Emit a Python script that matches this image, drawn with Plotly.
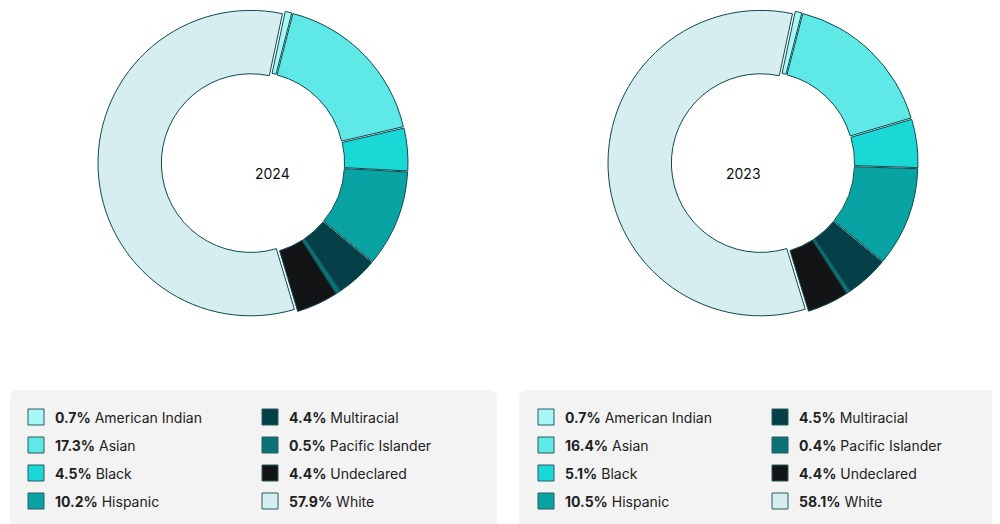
import plotly.graph_objects as go

categories = ["American Indian", "Asian", "Black", "Hispanic", "Multiracial", "Pacific Islander", "Undeclared", "White"]
values_2024 = [0.7, 17.3, 4.5, 10.2, 4.4, 0.5, 4.4, 57.9]
values_2023 = [0.7, 16.4, 5.1, 10.5, 4.5, 0.4, 4.4, 58.1]
years = ["2024", "2023"]
colors = ["#a6f7f5", "#5ee8e6", "#1ad8d6", "#09a3a3", "#053f48", "#0b7378", "#121415", "#d6eef0"]

W, H = 1000, 524
fig = go.Figure()
shapes, annots = [], []
for k, (yr, vals) in enumerate(zip(years, [values_2024, values_2023])):
    cx = 245 + 510 * k
    fig.add_trace(go.Pie(
        labels=categories, values=vals, hole=0.585, sort=False, direction="clockwise",
        rotation=12, textinfo="none", hoverinfo="label+percent", showlegend=False,
        pull=[0.015] * len(vals),
        marker=dict(colors=colors, line=dict(color="#0d4a50", width=1)),
        domain=dict(x=[(cx - 155) / W, (cx + 155) / W], y=[1 - 310 / H, 1]),
    ))
    annots.append(dict(x=cx / W, y=1 - 155 / H, xref="paper", yref="paper", text=yr,
                       showarrow=False, font=dict(size=14, color="#111")))
    x0 = 2 + 509 * k
    shapes.append(dict(type="path", xref="paper", yref="paper",
        path=f"M {(x0+8)/W},{1-382/H} L {(x0+479)/W},{1-382/H} Q {(x0+487)/W},{1-382/H} {(x0+487)/W},{1-390/H} "
             f"L {(x0+487)/W},{1-513/H} Q {(x0+487)/W},{1-521/H} {(x0+479)/W},{1-521/H} L {(x0+8)/W},{1-521/H} "
             f"Q {x0/W},{1-521/H} {x0/W},{1-513/H} L {x0/W},{1-390/H} Q {x0/W},{1-382/H} {(x0+8)/W},{1-382/H} Z",
        fillcolor="#f3f3f3", line=dict(width=0), layer="below"))
    for i, (c, v) in enumerate(zip(categories, vals)):
        col, row = divmod(i, 4)
        sx = 20 + 510 * k + 234 * col
        sy = 409 + 28 * row
        shapes.append(dict(type="rect", xref="paper", yref="paper",
                           x0=sx / W, x1=(sx + 16) / W, y0=1 - (sy - 8) / H, y1=1 - (sy + 8) / H,
                           fillcolor=colors[i], line=dict(color="#2a5a5e", width=1)))
        annots.append(dict(x=(sx + 25) / W, y=1 - sy / H, xref="paper", yref="paper",
                           xanchor="left", yanchor="middle", showarrow=False,
                           text=f"<b>{v}%</b> {c}", font=dict(size=14, color="#222")))

fig.update_layout(width=W, height=H, margin=dict(l=0, r=0, t=0, b=0),
                  paper_bgcolor="white", plot_bgcolor="white",
                  font=dict(family="Inter, sans-serif"), shapes=shapes, annotations=annots)
fig.write_html("out.html")
